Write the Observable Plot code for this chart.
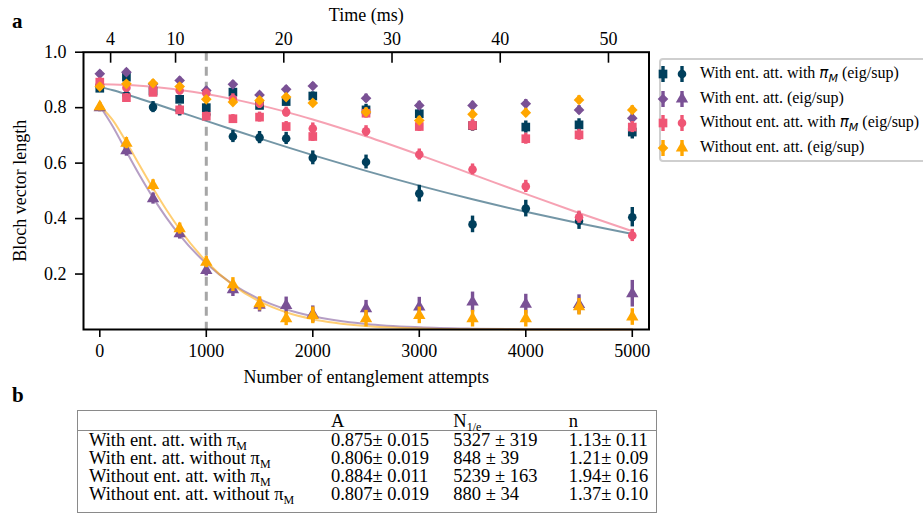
<!DOCTYPE html>
<html>
<head>
<meta charset="utf-8">
<script src="https://cdn.jsdelivr.net/npm/d3@7"></script>
<script src="https://cdn.jsdelivr.net/npm/@observablehq/plot@0.6"></script>
<style>
  body { margin: 0; background: #fff; }
  #fig { position: relative; width: 923px; height: 514px; background: #fff; font-family: "Liberation Serif", serif; color: #000; overflow: hidden; }
  .panel { position: absolute; font-weight: bold; font-size: 21px; }
  #legend { position: absolute; left: 659px; top: 58px; width: 280px; height: 104px; border: 2px solid #cfcfcf; border-radius: 4px; box-sizing: border-box; }
  .lrow { position: absolute; left: 0; height: 24px; font-size: 16px; white-space: nowrap; }
  .lrow svg { position: absolute; left: -8px; top: 0; }
  .lrow span.t { position: absolute; left: 39px; top: 1px; line-height: 20px; }
  .pm { font-family: "DejaVu Sans", sans-serif; font-style: italic; font-size: 15px; }
  .pm sub { font-size: 11px; line-height: 0; }
  #tbl { position: absolute; left: 77px; top: 410px; width: 580px; border: 1.5px solid #8a8a8a; border-collapse: collapse; font-size: 18.5px; }
  #tbl td { padding: 0; line-height: 18px; height: 18px; white-space: nowrap; vertical-align: middle; }
  #tbl tr.h td { border-bottom: 1.5px solid #8a8a8a; height: 19px; }
  #tbl tr.last td { padding-bottom: 9px; }
  #tbl sub { font-size: 12px; line-height: 0; vertical-align: -4px; }
</style>
</head>
<body>
<div id="fig">
  <div id="plot" style="position:absolute;left:0;top:0"></div>
  <div class="panel" style="left:12px;top:9px">a</div>
  <div id="legend"></div>
  <div class="panel" style="left:12px;top:383px">b</div>
  <table id="tbl"></table>
</div>
<script>
// ---------- data ----------
const attempts = [0, 250, 500, 750, 1000, 1250, 1500, 1750, 2000, 2500, 3000, 3500, 4000, 4500, 5000];

// With ent. att. with pi_M
const darkSq    = [0.870, 0.910, 0.860, 0.830, 0.800, 0.856, 0.808, 0.822, 0.842, 0.792, 0.778, 0.735, 0.730, 0.738, 0.712];
const darkSqErr = [0.015, 0.015, 0.015, 0.015, 0.015, 0.015, 0.015, 0.015, 0.015, 0.020, 0.020, 0.020, 0.022, 0.022, 0.025];
const darkCi    = [0.875, 0.845, 0.802, 0.790, 0.775, 0.696, 0.692, 0.689, 0.619, 0.604, 0.490, 0.379, 0.436, 0.391, 0.405];
const darkCiErr = [0.015, 0.018, 0.020, 0.020, 0.020, 0.022, 0.022, 0.022, 0.025, 0.025, 0.030, 0.030, 0.030, 0.030, 0.035];
// With ent. att.
const purpleDi    = [0.922, 0.928, 0.885, 0.898, 0.862, 0.884, 0.846, 0.866, 0.878, 0.834, 0.808, 0.808, 0.814, 0.792, 0.762];
const purpleDiErr = [0.012, 0.012, 0.012, 0.012, 0.012, 0.012, 0.012, 0.012, 0.012, 0.015, 0.015, 0.015, 0.015, 0.015, 0.018];
const purpleTr    = [0.800, 0.645, 0.472, 0.346, 0.213, 0.144, 0.088, 0.087, 0.055, 0.075, 0.081, 0.099, 0.091, 0.090, 0.129];
const purpleTrErr = [0.015, 0.020, 0.020, 0.020, 0.020, 0.025, 0.025, 0.030, 0.030, 0.030, 0.035, 0.036, 0.036, 0.035, 0.048];
// Without ent. att. with pi_M
const pinkSq    = [0.892, 0.836, 0.855, 0.792, 0.769, 0.760, 0.766, 0.732, 0.696, 0.780, 0.732, 0.736, 0.688, 0.702, 0.730];
const pinkSqErr = [0.015, 0.015, 0.015, 0.015, 0.015, 0.015, 0.018, 0.018, 0.018, 0.018, 0.018, 0.020, 0.020, 0.020, 0.020];
const pinkCi    = [0.884, 0.872, 0.870, 0.862, 0.852, 0.832, 0.815, 0.784, 0.725, 0.715, 0.631, 0.577, 0.516, 0.405, 0.339];
const pinkCiErr = [0.015, 0.015, 0.015, 0.015, 0.015, 0.018, 0.018, 0.018, 0.020, 0.020, 0.020, 0.020, 0.022, 0.022, 0.022];
// Without ent. att.
const orangeDi    = [0.876, 0.886, 0.888, 0.876, 0.830, 0.820, 0.826, 0.838, 0.817, 0.784, 0.754, 0.776, 0.782, 0.828, 0.792];
const orangeDiErr = [0.012, 0.012, 0.012, 0.012, 0.012, 0.012, 0.012, 0.012, 0.012, 0.015, 0.015, 0.015, 0.015, 0.015, 0.015];
const orangeTr    = [0.804, 0.672, 0.520, 0.364, 0.243, 0.162, 0.093, 0.039, 0.051, 0.039, 0.051, 0.039, 0.039, 0.082, 0.045];
const orangeTrErr = [0.015, 0.020, 0.020, 0.020, 0.020, 0.025, 0.025, 0.025, 0.030, 0.030, 0.030, 0.030, 0.030, 0.030, 0.030];

// fitted curves
const fitN      = [0, 125, 250, 375, 500, 625, 750, 1000, 1250, 1500, 1750, 2000, 2500, 3000, 3500, 4000, 4500, 5000];
const fitDark   = [0.875, 0.8625, 0.8478, 0.8324, 0.8167, 0.8006, 0.7845, 0.7523, 0.7205, 0.6892, 0.6585, 0.6288, 0.5719, 0.5188, 0.4697, 0.4245, 0.3829, 0.3449];
const fitPink   = [0.884, 0.8834, 0.8816, 0.8787, 0.8748, 0.8698, 0.8639, 0.8491, 0.8308, 0.8092, 0.7847, 0.7575, 0.6968, 0.6298, 0.5596, 0.4889, 0.4199, 0.3546];
const fitPurple = [0.806, 0.7303, 0.6416, 0.5553, 0.4755, 0.4037, 0.3404, 0.2378, 0.1628, 0.1097, 0.0729, 0.0478, 0.0199, 0.0080, 0.0031, 0.0012, 0.0004, 0.0002];
const fitOrange = [0.807, 0.7532, 0.6752, 0.5914, 0.5090, 0.4316, 0.3614, 0.2451, 0.1601, 0.1012, 0.0621, 0.0371, 0.0123, 0.0038, 0.0011, 0.0003, 0.0001, 0.0000];

// axes
const xTicks = [0, 1000, 2000, 3000, 4000, 5000];
const yTicks = [0.2, 0.4, 0.6, 0.8, 1.0];
const timeTicks = [4, 10, 20, 30, 40, 50];       // ms
const timeOffsetMs = 3.0;                         // time at 0 attempts
const msPerAttempt = 0.00984;
const markerN = 1000;                             // dashed line

// legend + table
const legendLabels = [
  'With ent. att. with <span class="pm">π<sub>M</sub></span> (eig/sup)',
  'With ent. att. (eig/sup)',
  'Without ent. att. with <span class="pm">π<sub>M</sub></span> (eig/sup)',
  'Without ent. att. (eig/sup)'
];
const tableHeader = ["", "A", "N<sub>1/e</sub>", "n"];
const tableRowLabels = ["With ent. att. with π<sub>M</sub>", "With ent. att. without π<sub>M</sub>", "Without ent. att. with π<sub>M</sub>", "Without ent. att. without π<sub>M</sub>"];
const tableA  = ["0.875± 0.015", "0.806± 0.019", "0.884± 0.011", "0.807± 0.019"];
const tableNe = ["5327 ± 319", "848 ± 39", "5239 ± 163", "880 ± 34"];
const tableNn = ["1.13± 0.11", "1.21± 0.09", "1.94± 0.16", "1.37± 0.10"];

// ---------- styling ----------
const C = {dark: "#003f5c", purple: "#7a5195", pink: "#ef5675", orange: "#ffa600"};
const series = [
  {vals: darkSq,   err: darkSqErr,   color: C.dark,   symbol: "square",   r: 4.9},
  {vals: darkCi,   err: darkCiErr,   color: C.dark,   symbol: "circle",   r: 4.3},
  {vals: purpleDi, err: purpleDiErr, color: C.purple, symbol: "diamond2", r: 4.8},
  {vals: purpleTr, err: purpleTrErr, color: C.purple, symbol: "triangle", r: 4.6},
  {vals: pinkSq,   err: pinkSqErr,   color: C.pink,   symbol: "square",   r: 4.9},
  {vals: pinkCi,   err: pinkCiErr,   color: C.pink,   symbol: "circle",   r: 4.3},
  {vals: orangeDi, err: orangeDiErr, color: C.orange, symbol: "diamond2", r: 4.8},
  {vals: orangeTr, err: orangeTrErr, color: C.orange, symbol: "triangle", r: 4.6}
];
const fits = [
  {vals: fitDark, color: C.dark}, {vals: fitPurple, color: C.purple},
  {vals: fitPink, color: C.pink}, {vals: fitOrange, color: C.orange}
];

const fitMarks = fits.map(f => Plot.line(fitN.map((n, i) => ({x: n, y: f.vals[i]})),
  {x: "x", y: "y", stroke: f.color, strokeOpacity: 0.55, strokeWidth: 2, curve: "monotone-x"}));

const dataMarks = series.flatMap(s => {
  const d = attempts.map((n, i) => ({x: n, y: s.vals[i], lo: s.vals[i] - s.err[i], hi: s.vals[i] + s.err[i]}));
  return [
    Plot.ruleX(d, {x: "x", y1: "lo", y2: "hi", stroke: s.color, strokeWidth: 3.4}),
    Plot.dot(d, {x: "x", y: "y", symbol: s.symbol, r: s.r, fill: s.color, stroke: "none"})
  ];
});

const chart = Plot.plot({
  width: 660, height: 390,
  marginLeft: 83, marginRight: 11.5, marginTop: 51.7, marginBottom: 61,
  style: {fontFamily: "Liberation Serif, serif", fontSize: "18px", color: "#000", background: "transparent", overflow: "visible"},
  x: {domain: [-153, 5157]},
  y: {domain: [0, 1]},
  marks: [
    Plot.ruleX([markerN], {stroke: "#a6a6a6", strokeWidth: 3, strokeDasharray: "9,6"}),
    ...fitMarks,
    ...dataMarks,
    Plot.frame({stroke: "#000", strokeWidth: 2}),
    Plot.axisY({ticks: yTicks, tickFormat: d3.format(".1f"), tickSize: 8, tickPadding: 9, strokeWidth: 1.6,
      label: "Bloch vector length", labelAnchor: "center", labelArrow: "none", labelOffset: 70}),
    Plot.axisX({anchor: "bottom", ticks: xTicks, tickFormat: d3.format("d"), tickSize: 8, tickPadding: 7, strokeWidth: 1.6,
      label: "Number of entanglement attempts", labelAnchor: "center", labelArrow: "none", labelOffset: 53}),
    Plot.axisX({anchor: "top", ticks: timeTicks.map(t => (t - timeOffsetMs) / msPerAttempt),
      tickFormat: d => String(Math.round(timeOffsetMs + d * msPerAttempt)), tickSize: -10, tickPadding: 17, strokeWidth: 1.6,
      label: "Time (ms)", labelAnchor: "center", labelArrow: "none", labelOffset: 44})
  ]
});
document.getElementById("plot").appendChild(chart);

// ---------- legend ----------
const legend = document.getElementById("legend");
const legendPairs = [[0, 1], [2, 3], [4, 5], [6, 7]];
const rowTops = [2, 27, 51, 76];
legendPairs.forEach((pair, k) => {
  const row = document.createElement("div");
  row.className = "lrow";
  row.style.top = rowTops[k] + "px";
  const svg = d3.create("svg").attr("width", 40).attr("height", 24);
  pair.forEach((si, j) => {
    const s = series[si];
    const cx = 10 + j * 19, cy = 12;
    svg.append("line").attr("x1", cx).attr("x2", cx).attr("y1", cy - 8).attr("y2", cy + 8)
      .attr("stroke", s.color).attr("stroke-width", 3.4);
    const sym = {square: d3.symbolSquare, circle: d3.symbolCircle, diamond2: d3.symbolDiamond2, triangle: d3.symbolTriangle}[s.symbol];
    svg.append("path").attr("d", d3.symbol(sym, s.r * s.r * Math.PI)()).attr("transform", `translate(${cx},${cy})`).attr("fill", s.color);
  });
  row.appendChild(svg.node());
  const t = document.createElement("span");
  t.className = "t";
  t.innerHTML = legendLabels[k];
  row.appendChild(t);
  legend.appendChild(row);
});

// ---------- table ----------
const tbl = document.getElementById("tbl");
const colW = [246, 125, 119, 88];
let html = '<tr class="h">' + tableHeader.map((h, i) => `<td style="width:${colW[i]}px;${i === 0 ? "padding-left:11px" : ""}">${h}</td>`).join("") + "</tr>";
tableRowLabels.forEach((lab, i) => {
  html += `<tr class="${i === tableRowLabels.length - 1 ? "last" : ""}"><td style="padding-left:11px">${lab}</td><td>${tableA[i]}</td><td>${tableNe[i]}</td><td>${tableNn[i]}</td></tr>`;
});
tbl.innerHTML = html;
</script>
</body>
</html>
